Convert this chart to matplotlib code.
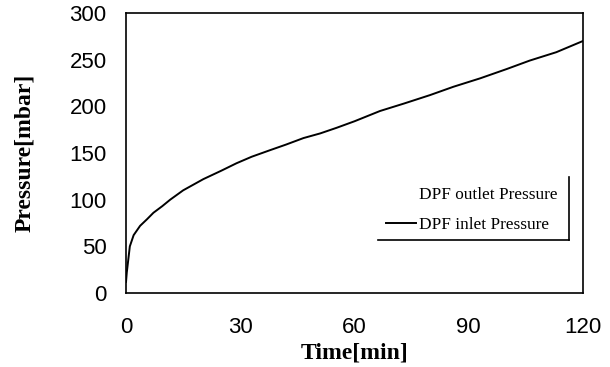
import matplotlib.pyplot as plt

# inlet pressure curve
time_min = [0, 0.2, 1.0, 2.0, 3.7, 5.5, 7.2, 9.5, 11.6, 15, 20.3, 25, 29, 33, 37.8, 42,
            46.6, 51, 55.3, 60, 66.7, 73, 79.8, 86, 93, 100, 106, 113, 120]
inlet_mbar = [12, 22, 50, 62, 72, 79, 86, 93, 100, 110, 122, 131, 139, 146, 153, 159,
              166, 171, 177, 184, 195, 203, 212, 221, 230, 240, 249, 258, 270]

x_ticks = [0, 30, 60, 90, 120]
y_ticks = [0, 50, 100, 150, 200, 250, 300]

fig = plt.figure(figsize=(6.1, 3.67), dpi=100)
ax = fig.add_axes([0.2066, 0.2016, 0.7491, 0.763])

# outlet pressure has no visible trace, only its legend text
ax.plot([], [], color="white", label="DPF outlet Pressure")
ax.plot(time_min, inlet_mbar, color="black", lw=1.4, label="DPF inlet Pressure")

ax.set_xlim(0, 120)
ax.set_ylim(0, 300)
ax.set_xticks(x_ticks)
ax.set_yticks(y_ticks)
ax.tick_params(length=0, labelsize=16)
ax.tick_params(axis="x", pad=17)
ax.tick_params(axis="y", pad=14)
for lab in ax.get_xticklabels() + ax.get_yticklabels():
    lab.set_family("Liberation Sans")

for s in ax.spines.values():
    s.set_linewidth(1.2)

ax.set_xlabel("Time[min]", family="Liberation Serif", weight="bold", fontsize=17)
ax.set_ylabel("Pressure[mbar]", family="Liberation Serif", weight="bold", fontsize=17)
ax.xaxis.set_label_coords(0.501, -0.175)
ax.yaxis.set_label_coords(-0.20, 0.5)

leg = ax.legend(loc="center", bbox_to_anchor=(0.757, 0.297), frameon=False,
                prop={"family": "Liberation Serif", "size": 12.4},
                handlelength=1.7, handletextpad=0.2, labelspacing=0.8,
                borderpad=0, borderaxespad=0)

# legend box: only the right and bottom edges are drawn
ax.plot([0.551, 0.969], [0.189, 0.189], transform=ax.transAxes, color="black", lw=1.2)
ax.plot([0.969, 0.969], [0.189, 0.414], transform=ax.transAxes, color="black", lw=1.2)

fig.savefig("out.png", dpi=100)
